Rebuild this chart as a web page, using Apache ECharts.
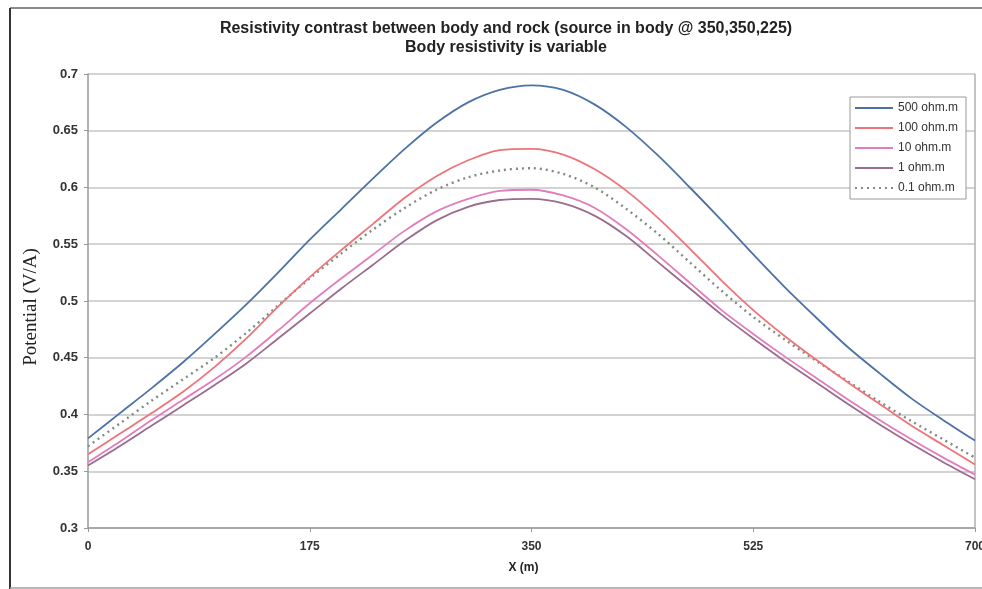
<!DOCTYPE html>
<html>
<head>
<meta charset="utf-8">
<script src="https://cdn.jsdelivr.net/npm/echarts@6/dist/echarts.min.js"></script>
<style>
  html, body { margin: 0; padding: 0; background: #ffffff; }
  #chart { width: 982px; height: 589px; }
</style>
</head>
<body>
<div id="chart"></div>
<script>
// Profile positions along X (m)
const xPositions = [0, 25, 50, 75, 100, 125, 150, 175, 200, 225, 250, 275, 300, 325, 350,
                    375, 400, 425, 450, 475, 500, 525, 550, 575, 600, 625, 650, 675, 700];

// Potential (V/A) for each body resistivity
const ohm500 = [0.379, 0.401, 0.423, 0.446, 0.471, 0.497, 0.525, 0.554, 0.581, 0.608, 0.634, 0.657, 0.675, 0.686, 0.690,
                0.686, 0.673, 0.653, 0.628, 0.600, 0.571, 0.541, 0.512, 0.485, 0.459, 0.436, 0.414, 0.395, 0.377];
const ohm100 = [0.365, 0.383, 0.401, 0.420, 0.442, 0.467, 0.495, 0.521, 0.545, 0.568, 0.591, 0.610, 0.624, 0.633, 0.634,
                0.629, 0.616, 0.597, 0.573, 0.546, 0.518, 0.492, 0.469, 0.448, 0.428, 0.409, 0.390, 0.373, 0.356];
const ohm10  = [0.358, 0.376, 0.395, 0.413, 0.431, 0.451, 0.474, 0.498, 0.520, 0.541, 0.562, 0.579, 0.590, 0.597, 0.598,
                0.593, 0.582, 0.563, 0.540, 0.516, 0.492, 0.471, 0.451, 0.432, 0.413, 0.395, 0.378, 0.362, 0.347];
const ohm1   = [0.355, 0.372, 0.390, 0.408, 0.426, 0.445, 0.467, 0.489, 0.511, 0.532, 0.553, 0.571, 0.583, 0.589, 0.590,
                0.586, 0.575, 0.557, 0.534, 0.511, 0.488, 0.467, 0.447, 0.428, 0.409, 0.391, 0.374, 0.358, 0.343];
const ohm01  = [0.372, 0.392, 0.412, 0.431, 0.450, 0.472, 0.496, 0.520, 0.542, 0.563, 0.582, 0.598, 0.609, 0.615, 0.617,
                0.612, 0.600, 0.581, 0.559, 0.534, 0.509, 0.486, 0.466, 0.447, 0.429, 0.411, 0.394, 0.378, 0.362];

const seriesNames = ['500 ohm.m', '100 ohm.m', '10 ohm.m', '1 ohm.m', '0.1 ohm.m'];
const seriesValues = [ohm500, ohm100, ohm10, ohm1, ohm01];
const seriesColors = ['#4d72a6', '#ef7479', '#e37cbc', '#9a6c8e', '#7f8c80'];
const seriesDash = ['solid', 'solid', 'solid', 'solid', [2, 4]];

const chart = echarts.init(document.getElementById('chart'), null, { renderer: 'canvas' });

const FONT = '"Liberation Sans", Arial, sans-serif';

const series = seriesNames.map((name, i) => ({
  name: name,
  type: 'line',
  smooth: 0.3,
  showSymbol: false,
  symbol: 'none',
  data: xPositions.map((x, k) => [x, seriesValues[i][k]]),
  lineStyle: { color: seriesColors[i], width: i === 4 ? 2.4 : 1.8, type: seriesDash[i] },
  itemStyle: { color: seriesColors[i] },
  z: 5 - i
}));

chart.setOption({
  animation: false,
  backgroundColor: '#ffffff',
  title: {
    text: 'Resistivity contrast between body and rock (source in body @ 350,350,225)\nBody resistivity is variable',
    left: 501,
    top: 14,
    textAlign: 'center',
    textStyle: { fontFamily: FONT, fontWeight: 'bold', fontSize: 16, color: '#222', lineHeight: 19 }
  },
  legend: {
    orient: 'vertical',
    left: 850,
    top: 97,
    padding: [4, 8, 4, 4],
    itemWidth: 38,
    itemHeight: 14,
    itemGap: 6,
    backgroundColor: '#ffffff',
    borderColor: '#9a9a9a',
    borderWidth: 1,
    itemStyle: { opacity: 0, borderWidth: 0 },
    data: seriesNames,
    textStyle: { fontFamily: FONT, fontSize: 12, color: '#333', lineHeight: 14, height: 14 }
  },
  grid: { left: 88, right: 7, top: 74, bottom: 61, outerBoundsMode: 'none' },
  xAxis: {
    type: 'value',
    min: 0,
    max: 700,
    interval: 175,
    name: 'X (m)',
    nameLocation: 'middle',
    nameGap: 34,
    nameTextStyle: { fontFamily: FONT, fontWeight: 'bold', fontSize: 12, color: '#222', padding: [0, 16, 0, 0] },
    axisLine: { show: true, lineStyle: { color: '#9a9a9a', width: 1.5 } },
    axisTick: { show: true, length: 4, inside: false, lineStyle: { color: '#9a9a9a' } },
    axisLabel: { fontFamily: FONT, fontWeight: 'bold', fontSize: 12, color: '#333', margin: 13 },
    splitLine: { show: false }
  },
  yAxis: {
    type: 'value',
    min: 0.3,
    max: 0.7,
    interval: 0.05,
    name: 'Potential (V/A)',
    nameLocation: 'middle',
    nameGap: 47,
    nameRotate: 90,
    nameTextStyle: { fontFamily: '"Liberation Serif", "Times New Roman", serif', fontSize: 19, color: '#222', padding: [0, 12, 0, 0] },
    axisLine: { show: true, lineStyle: { color: '#9a9a9a', width: 1.5 } },
    axisTick: { show: true, length: 4, lineStyle: { color: '#9a9a9a' } },
    axisLabel: {
      fontFamily: FONT, fontWeight: 'bold', fontSize: 13, color: '#333', margin: 10,
      formatter: v => String(Math.round(v * 100) / 100)
    },
    splitLine: { show: true, lineStyle: { color: '#c4c4c4', width: 1.5 } }
  },
  graphic: [
    // right border of the plot area
    { type: 'line', shape: { x1: 975, y1: 74, x2: 975, y2: 528 }, style: { stroke: '#b0b0b0', lineWidth: 1.5 }, z: 1 },
    // page frame
    { type: 'line', shape: { x1: 10, y1: 8, x2: 982, y2: 8 }, style: { stroke: '#8a8a8a', lineWidth: 2 }, z: 1 },
    { type: 'line', shape: { x1: 10, y1: 8, x2: 10, y2: 589 }, style: { stroke: '#333333', lineWidth: 2 }, z: 1 },
    { type: 'line', shape: { x1: 10, y1: 588, x2: 982, y2: 588 }, style: { stroke: '#a0a0a0', lineWidth: 1.5 }, z: 1 }
  ],
  series: series
});
</script>
</body>
</html>
